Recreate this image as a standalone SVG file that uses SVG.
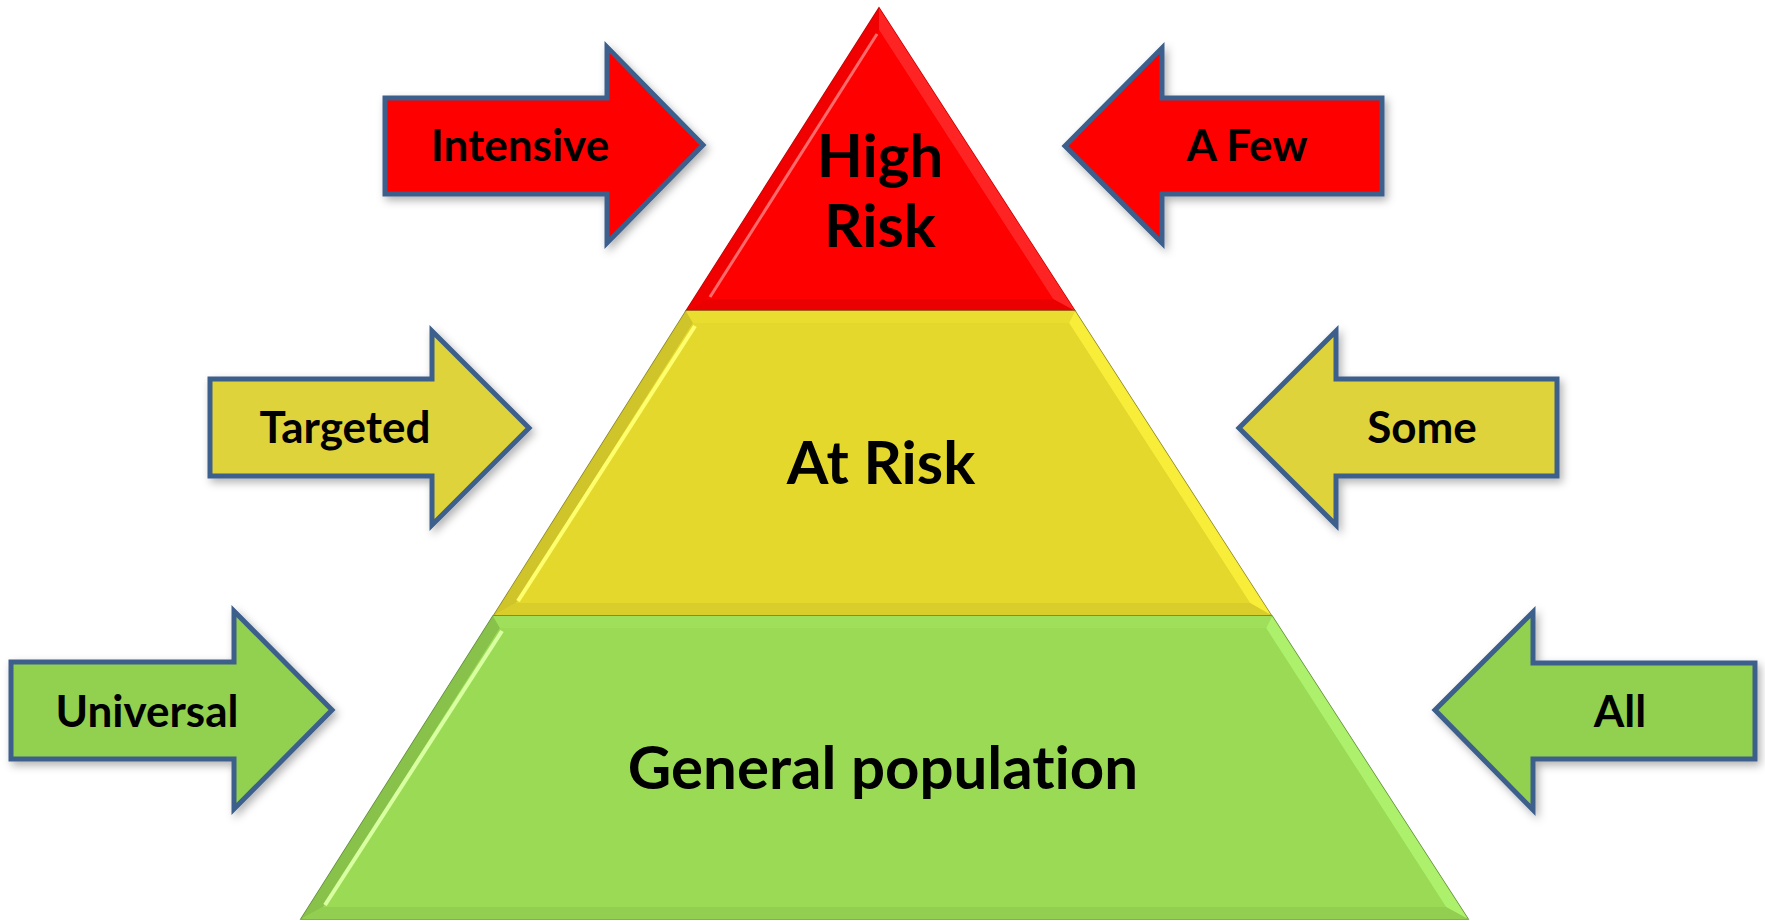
<svg xmlns="http://www.w3.org/2000/svg" width="1765" height="921" viewBox="0 0 1765 921">
<defs>
<filter id="sh" x="-10%" y="-10%" width="130%" height="130%">
<feDropShadow dx="3" dy="4" stdDeviation="4" flood-color="#000" flood-opacity="0.3"/>
</filter>
<style>
.arr{stroke:#3C5E8C;stroke-width:5;stroke-linejoin:miter;filter:url(#sh)}
.red{fill:#FF0000}
.yel{fill:#DED33B}
.grn{fill:#92D050}
.lbl{font-family:Lato,"Liberation Sans",sans-serif;font-weight:bold;font-size:44px;fill:#000;text-anchor:middle;font-variant-ligatures:none}
.big{font-family:Lato,"Liberation Sans",sans-serif;font-weight:bold;font-size:60px;fill:#000;text-anchor:middle;font-variant-ligatures:none}
</style>
</defs>
<rect width="1765" height="921" fill="#fff"/>

<g id="pyramid-top">
<polygon points="879,8 1075,311 686,311" fill="#FF0000" stroke="#C80000" stroke-width="1.5"/>
<polygon points="879,8 879,30 708,299 686,311" fill="#F00000"/>
<polygon points="879,8 1075,311 1053,299 879,30" fill="#FF2424"/>
<polygon points="686,311 708,299 1053,299 1075,311" fill="#EA0000"/>
<polygon points="879,30 1053,299 708,299" fill="#FF0000"/>
<line x1="877" y1="34" x2="710" y2="297" stroke="#FF6A6A" stroke-width="3"/>
<text class="big" x="880" y="177">High</text>
<text class="big" x="880" y="247">Risk</text>
</g>

<g id="pyramid-middle">
<polygon points="686,311 1075,311 1271,615 494,615" fill="#E4D82D" stroke="#8A8422" stroke-width="1.5"/>
<polygon points="686,311 693,323 516,603 494,615" fill="#CFC42A"/>
<polygon points="1075,311 1069,323 1250,603 1271,615" fill="#F8EE3A"/>
<polygon points="494,615 516,603 1250,603 1271,615" fill="#D8CD2A"/>
<polygon points="686,311 1075,311 1069,323 693,323" fill="#E9DD30"/>
<polygon points="693,323 1069,323 1250,603 516,603" fill="#E4D82D"/>
<line x1="695" y1="326" x2="518" y2="601" stroke="#FFFF6E" stroke-width="4"/>
<text class="big" x="881" y="484">At Risk</text>
</g>

<g id="pyramid-bottom">
<polygon points="493,616 1272,616 1468,919 301,919" fill="#9BDA55" stroke="#5E8E36" stroke-width="1.5"/>
<polygon points="493,616 500,628 323,907 301,919" fill="#88C24B"/>
<polygon points="1272,616 1266,628 1446,907 1468,919" fill="#ADF06C"/>
<polygon points="301,919 323,907 1446,907 1468,919" fill="#92CF50"/>
<polygon points="493,616 1272,616 1266,628 500,628" fill="#A0DF5A"/>
<polygon points="500,628 1266,628 1446,907 323,907" fill="#9BDA55"/>
<line x1="502" y1="631" x2="325" y2="905" stroke="#D8FFA0" stroke-width="4"/>
<text class="big" x="883" y="789">General population</text>
</g>

<g id="connectors">
<g id="arrow-intensive">
<path class="arr red" d="M385,98 H607 V47 L703,145 L607,243 V194 H385 Z"/>
<text class="lbl" x="520" y="161">Intensive</text>
</g>
<g id="arrow-targeted">
<path class="arr yel" d="M210,379 H432 V331 L529,428 L432,525 V476 H210 Z"/>
<text class="lbl" x="345" y="443">Targeted</text>
</g>
<g id="arrow-universal">
<path class="arr grn" d="M11,662 H234 V611 L332,710 L234,809 V759 H11 Z"/>
<text class="lbl" x="147" y="727">Universal</text>
</g>
<g id="arrow-afew">
<path class="arr red" d="M1382,98 H1162 V48 L1065,146 L1162,243 V194 H1382 Z"/>
<text class="lbl" x="1247" y="161">A Few</text>
</g>
<g id="arrow-some">
<path class="arr yel" d="M1557,379 H1336 V331 L1239,428 L1336,525 V476 H1557 Z"/>
<text class="lbl" x="1422" y="443">Some</text>
</g>
<g id="arrow-all">
<path class="arr grn" d="M1755,663 H1533 V612 L1435,710 L1533,810 V759 H1755 Z"/>
<text class="lbl" x="1620" y="727">All</text>
</g>
</g>
</svg>
